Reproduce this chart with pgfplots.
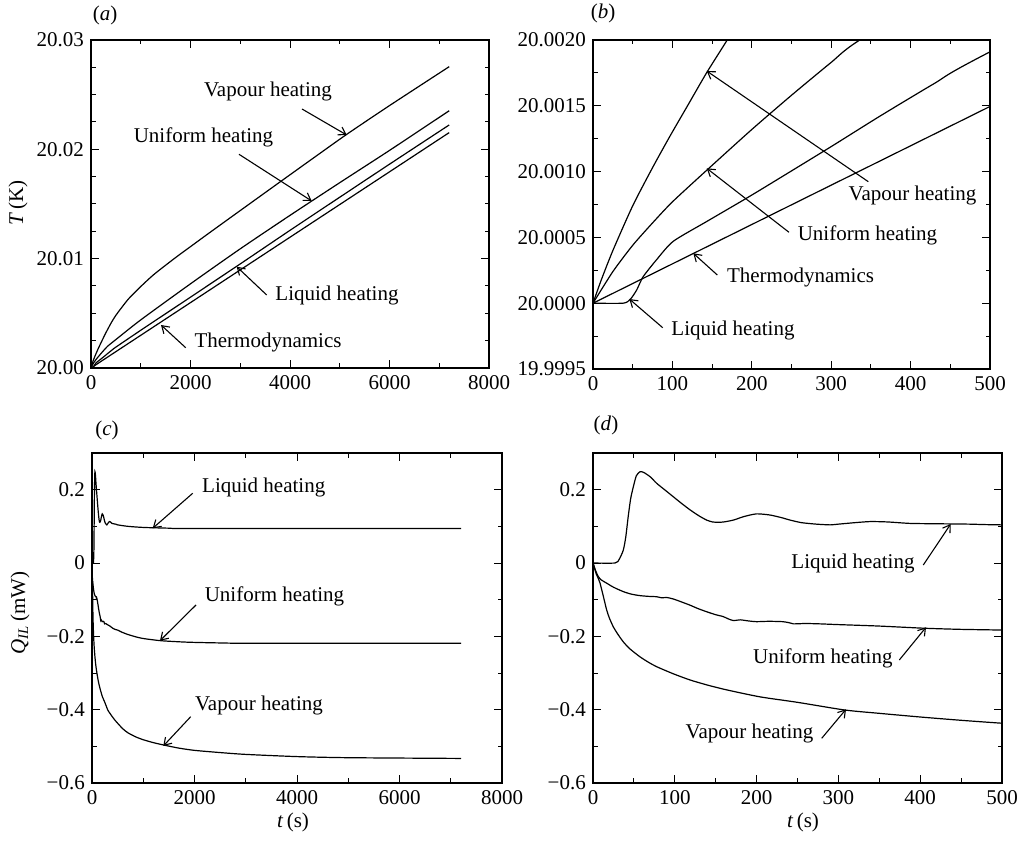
\documentclass[border=0pt]{standalone}
\usepackage{pgfplots}
\pgfplotsset{compat=1.18}
\usepackage{pgfplotstable}
\usepackage{fontspec}
\setmainfont{Liberation Serif}
\usetikzlibrary{arrows.meta}

% T - 20 K, in mK
\pgfplotstableread{
t dT
0 0
10 0.17
25 0.40
50 0.74
75 1.03
97 1.27
120 1.51
143 1.75
168 1.99
200 2.30
250 2.77
300 3.23
400 4.08
500 4.82
750 6.3
1000 7.45
1250 8.5
1500 9.4
1750 10.27
2000 11.1
2300 12.1
2619 13.15
3000 14.4
3825 17.1
4500 19.3
5140 21.37
6000 24.0
7200 27.56
}\vapT
\pgfplotstableread{
t dT
0 0
25 0.24
50 0.44
75 0.61
100 0.77
145 1.02
200 1.32
250 1.58
300 1.83
336 2.0
500 2.6
1000 4.4
2000 7.7
3000 10.9
4000 13.96
5000 16.95
6000 19.9
7200 23.53
}\uniT
\pgfplotstableread{
t dT
0 0
38 0
47 0.03
55 0.1
63 0.2
80 0.33
101 0.47
143 0.62
194 0.80
235 0.95
300 1.19
361 1.42
430 1.67
500 1.91
1000 3.45
2000 6.48
3000 9.52
4000 12.59
5000 15.62
6000 18.64
7200 22.23
}\liqT
\pgfplotstableread{
t dT
0 0
500 1.495
7200 21.53
}\thermoT

% Q_IL in mW
\pgfplotstableread{
t Q
0 0
27 0
32 0.01
37 0.035
40 0.07
43 0.126
46 0.175
49.3 0.208
53 0.238
57.5 0.249
62 0.247
70 0.235
78 0.217
88 0.199
98 0.181
108 0.163
118.6 0.145
130 0.128
139 0.117
146 0.112
153 0.111
160 0.112
171.5 0.117
185 0.127
200 0.134
216 0.131
230 0.124
241 0.117
255 0.110
273 0.106
290 0.104
300 0.106
320 0.110
339 0.113
360 0.112
387.5 0.108
420 0.107
460 0.106
500 0.104
700 0.100
1000 0.097
1500 0.095
2000 0.094
7200 0.094
}\liqQ
\pgfplotstableread{
t Q
0 0
3 -0.02
6.5 -0.037
10 -0.046
16.7 -0.055
25 -0.066
37 -0.078
47 -0.085
57.5 -0.089
68 -0.091
78 -0.092
84 -0.095
90 -0.094
98 -0.098
108 -0.106
118.6 -0.115
128 -0.124
139 -0.133
150 -0.141
159 -0.146
165 -0.152
171.5 -0.157
180 -0.155
190 -0.158
200 -0.160
215 -0.159
232 -0.160
240 -0.163
245 -0.166
260 -0.165
277.5 -0.166
300 -0.168
350 -0.172
406 -0.178
450 -0.181
500 -0.183
572 -0.188
700 -0.195
898 -0.203
1000 -0.206
1352 -0.212
1873 -0.216
2500 -0.218
3175 -0.219
7200 -0.219
}\uniQ
\pgfplotstableread{
t Q
0 0
2 -0.015
4 -0.03
6 -0.04
8.6 -0.055
12 -0.085
16.7 -0.128
20 -0.15
24.8 -0.174
30 -0.193
37 -0.215
45 -0.234
57.5 -0.256
68 -0.271
78 -0.283
98 -0.302
118.6 -0.319
140 -0.333
163.4 -0.346
204 -0.365
250 -0.38
308 -0.401
350 -0.41
400 -0.42
450 -0.429
500 -0.437
600 -0.452
700 -0.463
850 -0.474
1000 -0.482
1200 -0.490
1418 -0.497
1700 -0.505
2000 -0.511
2500 -0.517
3000 -0.522
4000 -0.528
5000 -0.531
7200 -0.533
}\vapQ

\pgfplotsset{
  myax/.style={
    scale only axis,
    anchor=south west,
    axis line style={line width=1.2pt},
    major tick length=8pt,
    minor tick length=4.5pt,
    every tick/.style={black,line width=1pt},
    scaled ticks=false,
    cycle list={{black,line width=1.2pt,mark=none}},
    every axis plot post/.append style={black,line width=1.2pt,mark=none,smooth,tension=0.4},
  }
}

\begin{document}
\fontsize{21}{25}\selectfont
\begin{tikzpicture}
\useasboundingbox (0pt,0pt) rectangle (1030pt,843pt);

% (a)
\begin{axis}[myax, at={(91pt,475pt)}, width=398pt, height=328pt,
  xmin=0, xmax=8000, ymin=0, ymax=30,
  xtick={0,2000,4000,6000,8000}, xticklabels={0,2000,4000,6000,8000},
  minor x tick num=1,
  ytick={0,10,20,30}, yticklabels={20.00,20.01,20.02,20.03},
  minor y tick num=3]
\addplot table[x=t,y=dT] {\vapT};
\addplot table[x=t,y=dT] {\uniT};
\addplot table[x=t,y=dT] {\liqT};
\addplot table[x=t,y=dT] {\thermoT};
\end{axis}

% (b)
\begin{axis}[myax, at={(593pt,474pt)}, width=397pt, height=329pt,
  xmin=0, xmax=500, ymin=-0.5, ymax=2.0,
  xtick={0,100,200,300,400,500}, xticklabels={0,100,200,300,400,500},
  minor x tick num=1,
  ytick={-0.5,0,0.5,1.0,1.5,2.0},
  yticklabels={19.9995,20.0000,20.0005,20.0010,20.0015,20.0020},
  minor y tick num=1]
\addplot table[x=t,y=dT] {\vapT};
\addplot table[x=t,y=dT] {\uniT};
\addplot table[x=t,y=dT] {\liqT};
\addplot table[x=t,y=dT] {\thermoT};
\end{axis}

% (c)
\begin{axis}[myax, at={(92pt,60pt)}, width=410pt, height=330pt,
  xmin=0, xmax=8000, ymin=-0.6, ymax=0.3,
  xtick={0,2000,4000,6000,8000}, xticklabels={0,2000,4000,6000,8000},
  minor x tick num=1,
  ytick={-0.6,-0.4,-0.2,0,0.2}, yticklabels={−0.6,−0.4,−0.2,0,0.2},
  minor y tick num=1]
\addplot table[x=t,y=Q] {\liqQ};
\addplot table[x=t,y=Q] {\uniQ};
\addplot table[x=t,y=Q] {\vapQ};
\end{axis}

% (d)
\begin{axis}[myax, at={(593pt,60pt)}, width=409pt, height=330pt,
  xmin=0, xmax=500, ymin=-0.6, ymax=0.3,
  xtick={0,100,200,300,400,500}, xticklabels={0,100,200,300,400,500},
  minor x tick num=1,
  ytick={-0.6,-0.4,-0.2,0,0.2}, yticklabels={−0.6,−0.4,−0.2,0,0.2},
  minor y tick num=1]
\addplot table[x=t,y=Q] {\liqQ};
\addplot table[x=t,y=Q] {\uniQ};
\addplot table[x=t,y=Q] {\vapQ};
\end{axis}

\begin{scope}[x=1pt,y=-1pt,shift={(0pt,843pt)},
  every node/.style={inner sep=0pt},
  arr/.style={line width=1.1pt,-{Straight Barb[length=7pt,width=9pt,line width=1.1pt]}}]
% panel labels
\node at (105,15) {(\textit{a})};
\node at (603,13) {(\textit{b})};
\node at (107,430) {(\textit{c})};
\node at (606,425) {(\textit{d})};
% axis labels
\node[rotate=90] at (18,203) {\textit{T}\,(K)};
\node[rotate=90] at (20,613) {\textit{Q}\textsubscript{\textit{IL}}\,(mW)};
\node at (293,822) {\textit{t}\,(s)};
\node at (803,822) {\textit{t}\,(s)};
% (a) annotations
\node at (268,91) {Vapour heating};
\draw[arr] (302,109) -- (346.7,135);
\node at (203.5,137) {Uniform heating};
\draw[arr] (239,154.3) -- (311.7,201);
\node at (337,295) {Liquid heating};
\draw[arr] (266.7,295) -- (236.7,266.7);
\node at (268,342) {Thermodynamics};
\draw[arr] (185.7,347.7) -- (161,325);
% (b) annotations
\node at (912.5,195) {Vapour heating};
\draw[arr] (868.3,181.7) -- (706.7,71);
\node at (867.5,235) {Uniform heating};
\draw[arr] (789,232.3) -- (706.7,168.3);
\node at (800.5,277) {Thermodynamics};
\draw[arr] (717.3,275) -- (693.3,253.3);
\node at (733,330) {Liquid heating};
\draw[arr] (662.7,327.7) -- (629.3,299);
% (c) annotations
\node at (263.7,487.7) {Liquid heating};
\draw[arr] (192.7,493.3) -- (152.7,528.3);
\node at (274.5,596.7) {Uniform heating};
\draw[arr] (196,605) -- (160,640.7);
\node at (259,705) {Vapour heating};
\draw[arr] (190.7,716.7) -- (163.3,746);
% (d) annotations
\node at (853,563.3) {Liquid heating};
\draw[arr] (923.3,565) -- (950.7,524);
\node at (822.8,658.3) {Uniform heating};
\draw[arr] (899.3,660) -- (926,627.3);
\node at (749.5,733.3) {Vapour heating};
\draw[arr] (821.7,738.3) -- (846,709.3);
\end{scope}
\end{tikzpicture}
\end{document}
